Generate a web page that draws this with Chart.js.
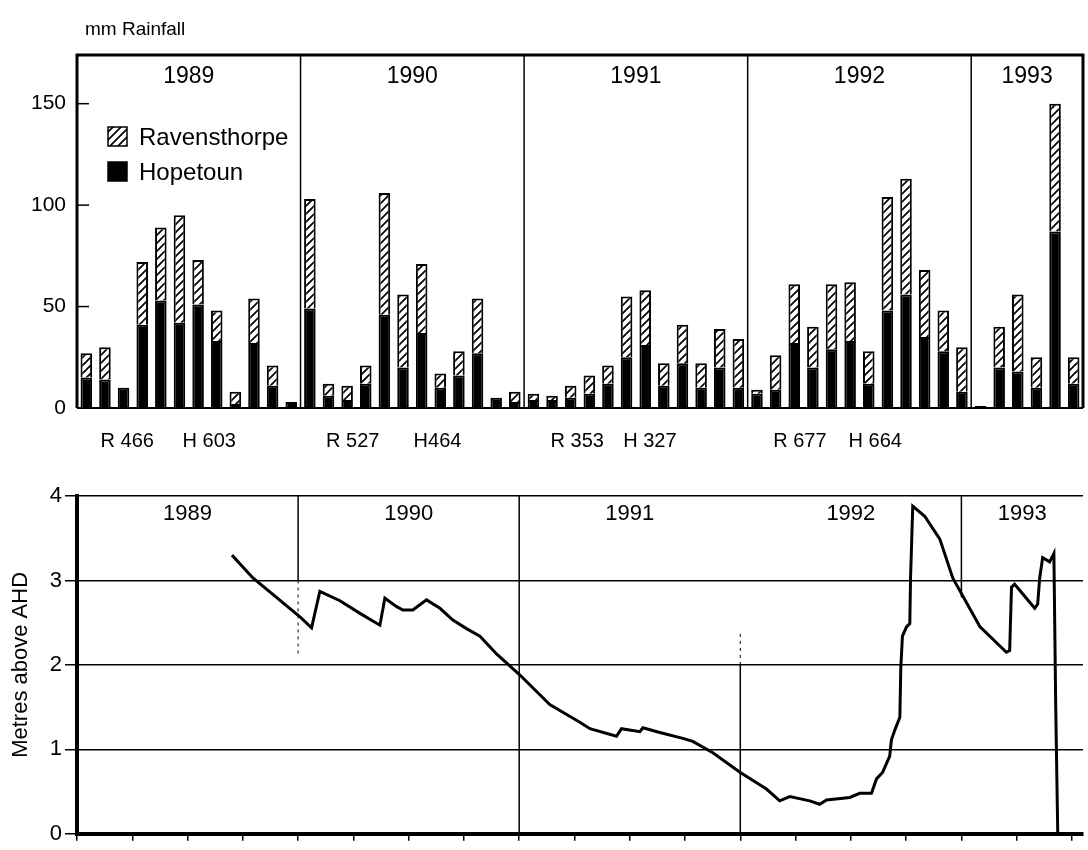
<!DOCTYPE html>
<html>
<head>
<meta charset="utf-8">
<title>Rainfall and water level</title>
<script src="https://cdn.jsdelivr.net/npm/chart.js@4.4.1/dist/chart.umd.min.js"></script>
<style>
  html, body { margin: 0; padding: 0; background: #fff; }
  #wrap { position: relative; width: 1088px; height: 850px; }
  #rainBox { position: absolute; left: 0; top: 0; }
  #levelBox { position: absolute; left: 0; top: 470px; }
</style>
</head>
<body>
<div id="wrap">
  <div id="rainBox"><canvas id="rainChart" width="1088" height="470"></canvas></div>
  <div id="levelBox"><canvas id="levelChart" width="1088" height="380"></canvas></div>
</div>
<script>
// Monthly rainfall (mm)
const years = ['1989', '1990', '1991', '1992', '1993'];
const monthsPerYear = [12, 12, 12, 12, 6];
const monthNames = ['Jan', 'Feb', 'Mar', 'Apr', 'May', 'Jun', 'Jul', 'Aug', 'Sep', 'Oct', 'Nov', 'Dec'];

// black part of each bar
const hopetoun = [
    15, 14, 10, 41, 53, 42, 51, 33, 2, 32, 11, 3,   // 1989
    49, 6, 4, 12, 46, 20, 37, 10, 16, 27, 5, 3,     // 1990
    4, 4, 5, 7, 12, 25, 31, 11, 22, 10, 20, 10,     // 1991
    7, 9, 32, 20, 29, 33, 12, 48, 56, 35, 28, 8,    // 1992
    1, 20, 18, 10, 87, 12                           // 1993
];
// hatched part stacked on top
const ravensthorpe = [
    12, 16, 0, 31, 36, 53, 22, 15, 6, 22, 10, 0,
    54, 6, 7, 9, 60, 36, 34, 7, 12, 27, 0, 5,
    3, 2, 6, 9, 9, 30, 27, 11, 19, 12, 19, 24,
    2, 17, 29, 20, 32, 29, 16, 56, 57, 33, 20, 22,
    0, 20, 38, 15, 63, 13
];
const annualR = ['R 466', 'R 527', 'R 353', 'R 677'];
const annualH = ['H 603', 'H464', 'H 327', 'H 664'];
const rainTicks = [0, 50, 100, 150];

// Water level (metres above AHD); x = months since start of 1989
const levelMonth = [
    8.41, 9.55, 12.10, 12.73, 13.18, 14.27, 15.36, 16.44, 16.71, 17.35,
    17.69, 18.23, 18.97, 19.70, 20.40, 21.14, 21.87, 22.77, 24.04, 25.66,
    27.29, 27.84, 29.28, 29.55, 30.55, 30.71, 31.63, 32.88, 33.42, 34.51,
    35.98, 37.42, 38.14, 38.69, 39.77, 40.31, 40.68, 41.94, 42.48, 43.12,
    43.39, 43.73, 44.11, 44.20, 44.38, 44.66, 44.71, 44.80, 45.02, 45.20,
    45.24, 45.36, 46.01, 46.83, 47.53, 49.00, 50.44, 50.62, 50.72, 50.89,
    51.98, 52.14, 52.25, 52.41, 52.79, 53.02, 53.12, 53.23
];
const levelMetres = [
    3.30, 3.03, 2.57, 2.44, 2.87, 2.76, 2.61, 2.47, 2.79, 2.69,
    2.65, 2.65, 2.77, 2.67, 2.53, 2.43, 2.34, 2.13, 1.88, 1.53,
    1.32, 1.245, 1.155, 1.245, 1.21, 1.255, 1.20, 1.13, 1.095, 0.96,
    0.73, 0.53, 0.39, 0.44, 0.39, 0.35, 0.40, 0.43, 0.48, 0.48,
    0.65, 0.73, 0.92, 1.11, 1.225, 1.38, 1.96, 2.34, 2.45, 2.49,
    3.03, 3.88, 3.76, 3.49, 3.03, 2.455, 2.15, 2.17, 2.92, 2.955,
    2.67, 2.72, 3.03, 3.27, 3.22, 3.32, 1.50, 0.0
];
const levelTicks = [0, 1, 2, 3, 4];

const FONT = "'Liberation Sans', Arial, Helvetica, sans-serif";

// month labels for the category axis
const monthLabels = [];
years.forEach((y, i) => {
    for (let m = 0; m < monthsPerYear[i]; m++) monthLabels.push(monthNames[m] + ' ' + y);
});

// hatch fill for Ravensthorpe
function makeHatch(ctx) {
    const c = document.createElement('canvas');
    c.width = 8; c.height = 8;
    const g = c.getContext('2d');
    g.fillStyle = '#fff';
    g.fillRect(0, 0, 8, 8);
    g.strokeStyle = '#000';
    g.lineWidth = 1.7;
    g.beginPath();
    g.moveTo(0, 8); g.lineTo(8, 0);
    g.moveTo(-2, 2); g.lineTo(2, -2);
    g.moveTo(6, 10); g.lineTo(10, 6);
    g.stroke();
    return ctx.createPattern(c, 'repeat');
}

const rainCtx = document.getElementById('rainChart').getContext('2d');
const hatch = makeHatch(rainCtx);

// frame, year dividers, labels and legend of the rainfall panel
const rainDecor = {
    id: 'rainDecor',
    beforeDatasetsDraw(chart) {
        const { ctx, chartArea: a, scales: { x } } = chart;
        ctx.save();
        ctx.strokeStyle = '#000';
        ctx.lineWidth = 1.5;
        let start = 0;
        monthsPerYear.slice(0, -1).forEach(n => {
            start += n;
            const px = x.getPixelForValue(start - 0.5);
            ctx.beginPath(); ctx.moveTo(px, a.top); ctx.lineTo(px, a.bottom); ctx.stroke();
        });
        ctx.restore();
    },
    afterDraw(chart) {
        const { ctx, chartArea: a, scales: { x, y } } = chart;
        ctx.save();
        ctx.strokeStyle = '#000';
        // frame
        ctx.lineWidth = 3;
        ctx.beginPath(); ctx.moveTo(a.left, a.bottom); ctx.lineTo(a.left, a.top); ctx.lineTo(a.right, a.top); ctx.lineTo(a.right, a.bottom); ctx.stroke();
        ctx.lineWidth = 2;
        ctx.beginPath(); ctx.moveTo(a.left, a.bottom); ctx.lineTo(a.right, a.bottom); ctx.stroke();
        // inward ticks
        ctx.lineWidth = 1.5;
        rainTicks.forEach(v => {
            const py = y.getPixelForValue(v);
            ctx.beginPath(); ctx.moveTo(a.left, py); ctx.lineTo(a.left + 12, py); ctx.stroke();
        });

        ctx.fillStyle = '#000';
        ctx.textBaseline = 'middle';
        // title
        ctx.font = '19px ' + FONT;
        ctx.textAlign = 'left';
        ctx.fillText('mm Rainfall', 85, 30);

        // year labels
        ctx.font = '23px ' + FONT;
        ctx.textAlign = 'center';
        let start = 0;
        years.forEach((yr, i) => {
            const mid = start + monthsPerYear[i] / 2;
            ctx.fillText(yr, x.getPixelForValue(mid - 0.5), a.top + 22);
            start += monthsPerYear[i];
        });

        // annual totals under the axis
        const rPos = [2.7, 2.8, 2.85, 2.8];
        const hPos = [7.1, 7.35, 6.75, 6.85];
        ctx.font = '20px ' + FONT;
        annualR.forEach((t, i) => {
            const s = i * 12;
            ctx.fillText(t, x.getPixelForValue(s + rPos[i] - 0.5), a.bottom + 33);
            ctx.fillText(annualH[i], x.getPixelForValue(s + hPos[i] - 0.5), a.bottom + 33);
        });

        // legend
        const lx = a.left + 31;
        const items = [[chart.data.datasets[1].label, hatch], [chart.data.datasets[0].label, '#000']];
        ctx.font = '24px ' + FONT;
        ctx.textAlign = 'left';
        items.forEach(([label, fill], i) => {
            const ly = 127 + i * 35;
            ctx.fillStyle = fill;
            ctx.fillRect(lx, ly, 19, 19);
            ctx.lineWidth = 1.5;
            ctx.strokeRect(lx, ly, 19, 19);
            ctx.fillStyle = '#000';
            ctx.fillText(label, lx + 31, ly + 11);
        });
        ctx.restore();
    }
};

new Chart(rainCtx, {
    type: 'bar',
    data: {
        labels: monthLabels,
        datasets: [{
            label: 'Hopetoun',
            data: hopetoun,
            backgroundColor: '#000',
            borderColor: '#000',
            borderWidth: 2,
            barPercentage: 0.62,
            categoryPercentage: 1.0
        }, {
            label: 'Ravensthorpe',
            data: ravensthorpe,
            backgroundColor: hatch,
            borderColor: '#000',
            borderWidth: 2,
            barPercentage: 0.62,
            categoryPercentage: 1.0
        }]
    },
    options: {
        responsive: false,
        animation: false,
        layout: { padding: { top: 55, right: 5, left: 0, bottom: 0 } },
        plugins: { legend: { display: false }, tooltip: { enabled: false } },
        scales: {
            x: {
                stacked: true,
                grid: { display: false, drawTicks: false },
                border: { display: false },
                ticks: { display: false },
                afterFit: s => { s.height = 62; }
            },
            y: {
                stacked: true,
                min: 0,
                max: 174,
                grid: { display: false, drawTicks: false },
                border: { display: false },
                afterBuildTicks: s => { s.ticks = rainTicks.map(v => ({ value: v })); },
                ticks: { color: '#000', padding: 11, font: { family: FONT, size: 21 } },
                afterFit: s => { s.width = 77; }
            }
        }
    },
    plugins: [rainDecor]
});

// year labels and dividers of the water level panel
const levelDecor = {
    id: 'levelDecor',
    beforeDatasetsDraw(chart) {
        const { ctx, chartArea: a, scales: { x, y } } = chart;
        // [month, from, to, dashed]
        const dividers = [[12, 4, 3, false], [12, 3, 2.1, true], [24, 0, 4, false],
                          [36, 0, 2.0, false], [36, 2.0, 2.37, true], [48, 4, 2.8, false]];
        ctx.save();
        ctx.strokeStyle = '#000';
        dividers.forEach(([m, y0, y1, dashed]) => {
            ctx.lineWidth = dashed ? 1 : 1.5;
            ctx.setLineDash(dashed ? [3, 4] : []);
            const px = x.getPixelForValue(m);
            ctx.beginPath(); ctx.moveTo(px, y.getPixelForValue(y0)); ctx.lineTo(px, y.getPixelForValue(y1)); ctx.stroke();
        });
        ctx.restore();
    },
    afterDraw(chart) {
        const { ctx, chartArea: a, scales: { x } } = chart;
        ctx.save();
        ctx.fillStyle = '#000';
        ctx.font = '22px ' + FONT;
        ctx.textAlign = 'center';
        ctx.textBaseline = 'middle';
        let start = 0;
        years.forEach((yr, i) => {
            const end = i === years.length - 1 ? x.max : start + monthsPerYear[i];
            ctx.fillText(yr, x.getPixelForValue((start + end) / 2), a.top + 18);
            start += monthsPerYear[i];
        });
        ctx.restore();
    }
};

new Chart(document.getElementById('levelChart'), {
    type: 'line',
    data: {
        datasets: [{
            label: 'Water level',
            data: levelMonth.map((m, i) => ({ x: m, y: levelMetres[i] })),
            borderColor: '#000',
            borderWidth: 3,
            pointRadius: 0,
            tension: 0,
            fill: false
        }]
    },
    options: {
        responsive: false,
        animation: false,
        layout: { padding: { top: 26, right: 5, left: 0, bottom: 0 } },
        plugins: { legend: { display: false }, tooltip: { enabled: false } },
        scales: {
            x: {
                type: 'linear',
                min: 0,
                max: 54.6,
                grid: { drawOnChartArea: false, drawTicks: true, tickLength: 7, color: '#000', lineWidth: 1.5 },
                border: { display: true, color: '#000', width: 4 },
                ticks: { display: false, stepSize: 3, includeBounds: false },
                afterFit: s => { s.height = 7; }
            },
            y: {
                min: 0,
                max: 4,
                afterBuildTicks: s => { s.ticks = levelTicks.map(v => ({ value: v })); },
                grid: { color: '#000', lineWidth: 1.5, tickLength: 12 },
                border: { display: true, color: '#000', width: 4 },
                ticks: { color: '#000', padding: 3, font: { family: FONT, size: 22 } },
                title: { display: true, text: 'Metres above AHD', color: '#000', font: { family: FONT, size: 22 }, padding: { top: 8, bottom: 0 } },
                afterFit: s => { s.width = 77; }
            }
        }
    },
    plugins: [levelDecor]
});
</script>
</body>
</html>
